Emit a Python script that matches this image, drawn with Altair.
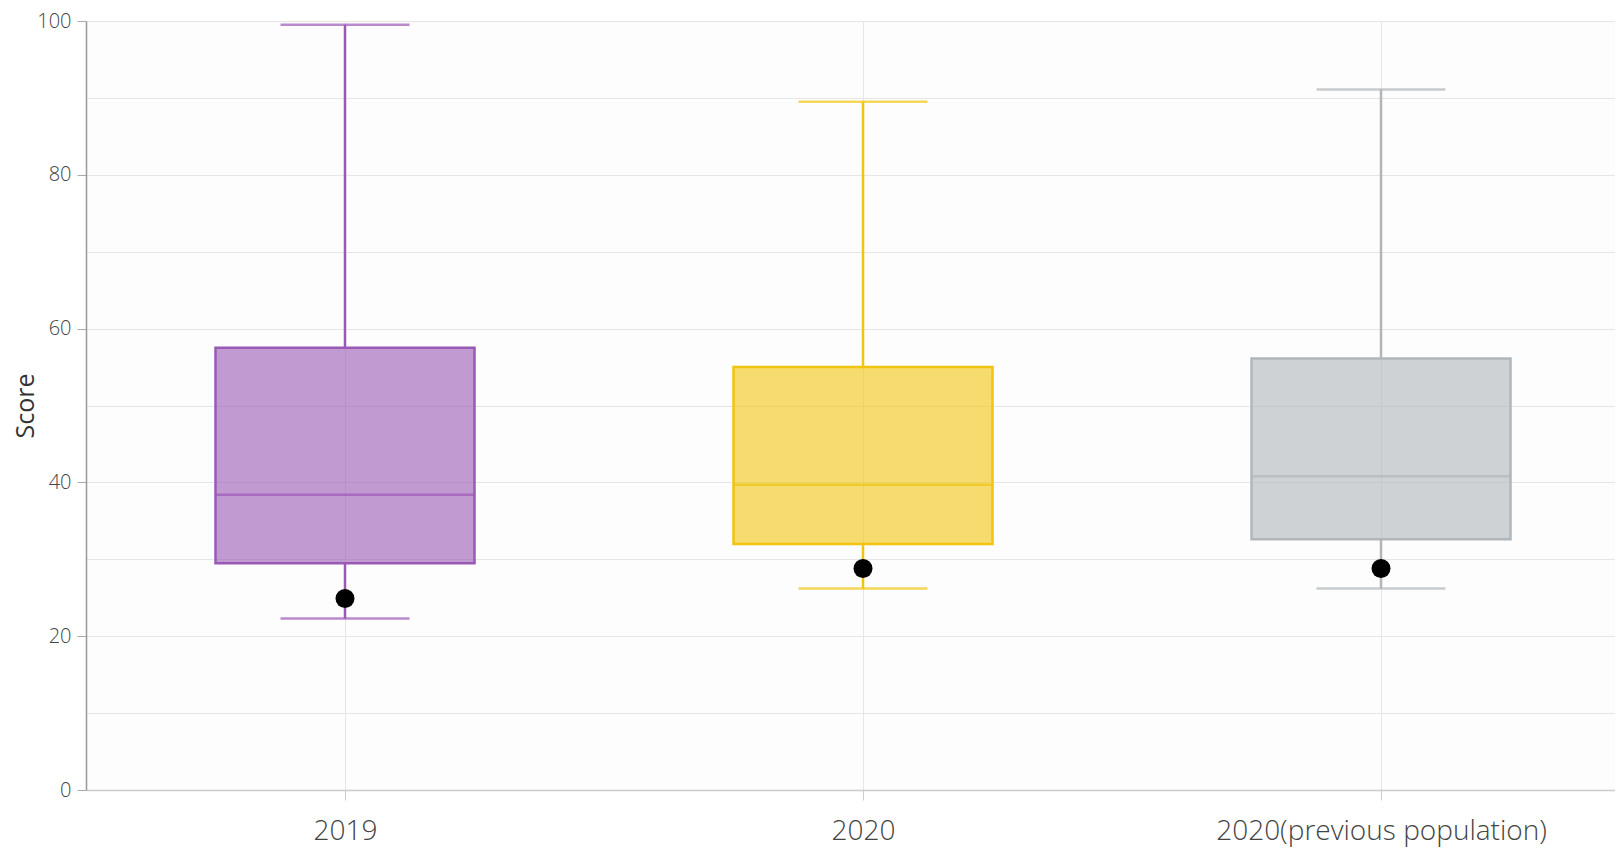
import altair as alt
import pandas as pd

categories = ["2019", "2020", "2020(previous population)"]
positions = [0, 1, 2]
lower = [22.3, 26.2, 26.2]
q1 = [29.5, 32.0, 32.6]
median = [38.4, 39.7, 40.8]
q3 = [57.5, 55.0, 56.1]
upper = [99.5, 89.5, 91.1]
point = [24.9, 28.8, 28.8]
stroke_colors = ["#9b59b6", "#f1c40f", "#b1b6bb"]

df = pd.DataFrame({
    "cat": categories,
    "pos": positions,
    "lower": lower,
    "q1": q1,
    "median": median,
    "q3": q3,
    "upper": upper,
    "point": point,
})

FONT = "Open Sans"

label_map = "{" + ", ".join(f"'{p}': '{c}'" for p, c in zip(positions, categories)) + "}"

x = alt.X(
    "pos:Q",
    scale=alt.Scale(domain=[-0.5, 2.4517], nice=False, zero=False, padding=0),
    axis=alt.Axis(
        title=None, values=positions, labelExpr=label_map + "[datum.value]",
        labelAngle=0, labelFont=FONT, labelFontSize=28, labelFontWeight=300, labelLimit=0,
        labelColor="#444", tickColor="#cccccc", tickSize=10, domainColor="#cccccc",
        domainWidth=1.5, grid=True, gridColor="#e6e6e6", labelPadding=17, labelFlush=False,
        labelOverlap=False,
    ),
)
yscale = alt.Scale(domain=[0, 100], nice=False, zero=True, padding=0)
yaxis = alt.Axis(
    title="Score", values=list(range(0, 101, 10)),
    labelExpr="datum.value % 20 === 0 ? datum.label : ''",
    tickColor={"condition": {"test": "datum.value % 20 !== 0", "value": "transparent"}, "value": "#aaaaaa"},
    tickSize=9, labelPadding=6, labelFont=FONT, labelFontSize=20, labelFontWeight=300,
    labelColor="#444", domainColor="#999999", domainWidth=1.5, gridColor="#e6e6e6",
    titleFont=FONT, titleFontSize=25, titleFontWeight="normal", titleColor="#333", titlePadding=-2,
)
color = alt.Color("cat:N", scale=alt.Scale(domain=categories, range=stroke_colors), legend=None)

base = alt.Chart(df)

w_low = base.mark_rule(strokeWidth=2.5).encode(x=x, y=alt.Y("lower:Q", scale=yscale, axis=yaxis), y2="q1:Q", color=color)
w_high = base.mark_rule(strokeWidth=2.5).encode(x=x, y=alt.Y("q3:Q", scale=yscale), y2="upper:Q", color=color)
cap_low = base.mark_tick(size=129, thickness=2.5, orient="horizontal").encode(x=x, y=alt.Y("lower:Q", scale=yscale), color=color)
cap_high = base.mark_tick(size=129, thickness=2.5, orient="horizontal").encode(x=x, y=alt.Y("upper:Q", scale=yscale), color=color)
box = base.mark_bar(size=259, fillOpacity=0.6, strokeWidth=2.5).encode(
    x=x, y=alt.Y("q1:Q", scale=yscale), y2="q3:Q", fill=color, stroke=color
)
med = base.mark_tick(size=259, thickness=2.5, orient="horizontal").encode(x=x, y=alt.Y("median:Q", scale=yscale), color=color)
dots = base.mark_circle(size=360, color="black", opacity=1).encode(x=x, y=alt.Y("point:Q", scale=yscale))

chart = alt.layer(w_low, w_high, box, med, cap_low, cap_high, dots).properties(
    width=1529, height=769,
    autosize=alt.AutoSizeParams(type="none"),
    padding={"left": 78, "top": 13, "right": 0, "bottom": 58},
    background="white",
).configure_view(fill="#fdfdfd", stroke=None)

chart.save("out.html", embed_options={"renderer": "svg", "actions": False})
